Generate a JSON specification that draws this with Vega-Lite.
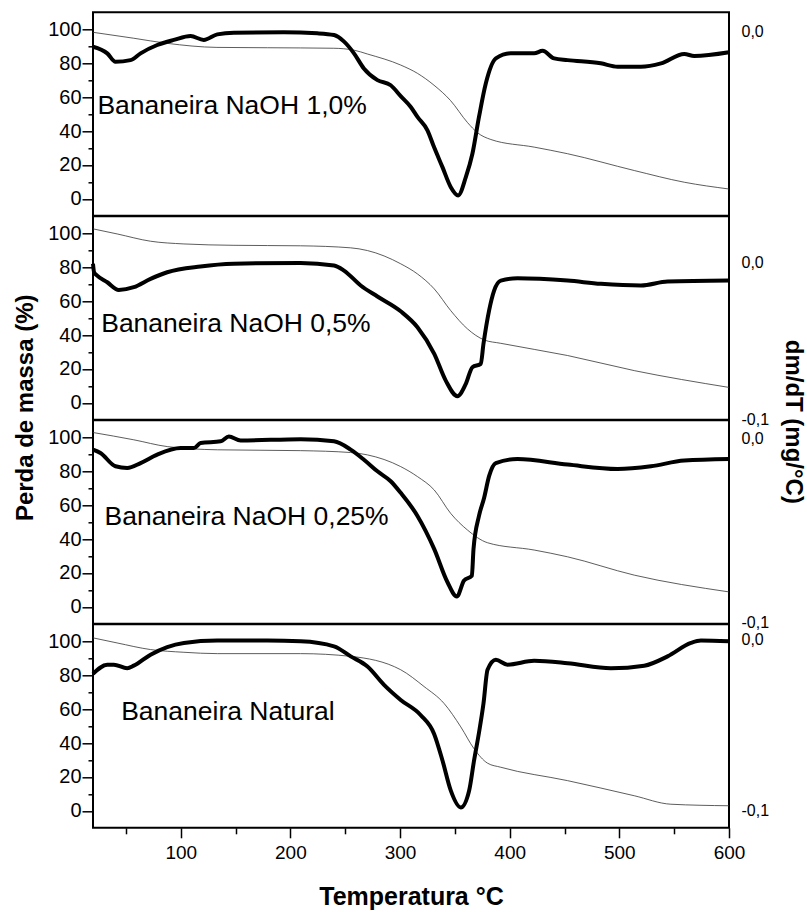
{
  "$schema": "https://vega.github.io/schema/vega-lite/v6.json",
  "background": "white",
  "padding": {"left": 12, "top": 11.3, "right": 5, "bottom": 5},
  "datasets": {
    "tg": [
      {"s": "a", "T": 20, "m": 98.2}, {"s": "a", "T": 57.2, "m": 94.7}, {"s": "a", "T": 87.7, "m": 91.7}, {"s": "a", "T": 133, "m": 89.3}, {"s": "a", "T": 179, "m": 89.1}, {"s": "a", "T": 239.6, "m": 88.8}, {"s": "a", "T": 257.8, "m": 87.7}, {"s": "a", "T": 270.3, "m": 85.4}, {"s": "a", "T": 300.6, "m": 78.9}, {"s": "a", "T": 315.9, "m": 74}, {"s": "a", "T": 331, "m": 67}, {"s": "a", "T": 346, "m": 58}, {"s": "a", "T": 361.5, "m": 45}, {"s": "a", "T": 370.6, "m": 39}, {"s": "a", "T": 382.8, "m": 35}, {"s": "a", "T": 422.3, "m": 30.5}, {"s": "a", "T": 452.8, "m": 26.6}, {"s": "a", "T": 513.6, "m": 16.7}, {"s": "a", "T": 559.2, "m": 9.8}, {"s": "a", "T": 600, "m": 5.8},
      {"s": "b", "T": 20, "m": 102.6}, {"s": "b", "T": 42, "m": 99.6}, {"s": "b", "T": 72.5, "m": 95.3}, {"s": "b", "T": 102.9, "m": 93.7}, {"s": "b", "T": 148.5, "m": 92.9}, {"s": "b", "T": 209.4, "m": 92.6}, {"s": "b", "T": 255, "m": 91.4}, {"s": "b", "T": 270.3, "m": 89.8}, {"s": "b", "T": 300.6, "m": 82}, {"s": "b", "T": 315.9, "m": 76}, {"s": "b", "T": 331.2, "m": 67.2}, {"s": "b", "T": 346.2, "m": 54.4}, {"s": "b", "T": 361.5, "m": 43.6}, {"s": "b", "T": 376.7, "m": 37.1}, {"s": "b", "T": 391.9, "m": 35.1}, {"s": "b", "T": 452.8, "m": 27.9}, {"s": "b", "T": 513.6, "m": 19}, {"s": "b", "T": 600, "m": 9.1},
      {"s": "c", "T": 20, "m": 102.8}, {"s": "c", "T": 57.2, "m": 98.5}, {"s": "c", "T": 87.7, "m": 94.5}, {"s": "c", "T": 133.4, "m": 92.6}, {"s": "c", "T": 209.4, "m": 92.1}, {"s": "c", "T": 255, "m": 91}, {"s": "c", "T": 270.3, "m": 89.6}, {"s": "c", "T": 300.6, "m": 82.7}, {"s": "c", "T": 315.9, "m": 76.8}, {"s": "c", "T": 331.2, "m": 68.9}, {"s": "c", "T": 346.2, "m": 55.1}, {"s": "c", "T": 361.5, "m": 45.3}, {"s": "c", "T": 379.8, "m": 37.8}, {"s": "c", "T": 422.3, "m": 33.5}, {"s": "c", "T": 452.8, "m": 29.5}, {"s": "c", "T": 513.6, "m": 18.7}, {"s": "c", "T": 600, "m": 8.8},
      {"s": "d", "T": 20, "m": 102}, {"s": "d", "T": 42, "m": 99}, {"s": "d", "T": 72.5, "m": 95.1}, {"s": "d", "T": 102.9, "m": 93.5}, {"s": "d", "T": 133.4, "m": 92.7}, {"s": "d", "T": 209.4, "m": 92.7}, {"s": "d", "T": 255, "m": 91.1}, {"s": "d", "T": 300.6, "m": 83.2}, {"s": "d", "T": 321.9, "m": 73.3}, {"s": "d", "T": 340.2, "m": 63.3}, {"s": "d", "T": 355.4, "m": 49.5}, {"s": "d", "T": 367.5, "m": 36.6}, {"s": "d", "T": 379.8, "m": 28.1}, {"s": "d", "T": 391.9, "m": 25.7}, {"s": "d", "T": 452.8, "m": 17.8}, {"s": "d", "T": 513.6, "m": 8.9}, {"s": "d", "T": 547, "m": 3.9}, {"s": "d", "T": 600, "m": 3}
    ],
    "dtg": [
      {"s": "a", "T": 20, "d": -0.00813}, {"s": "a", "T": 33, "d": -0.01169}, {"s": "a", "T": 40.5, "d": -0.01626}, {"s": "a", "T": 54.2, "d": -0.01534}, {"s": "a", "T": 63.4, "d": -0.01169}, {"s": "a", "T": 78.6, "d": -0.00721}, {"s": "a", "T": 93.7, "d": -0.00447}, {"s": "a", "T": 109, "d": -0.00237}, {"s": "a", "T": 121, "d": -0.00447}, {"s": "a", "T": 133.4, "d": -0.00146}, {"s": "a", "T": 148.5, "d": -0.00055}, {"s": "a", "T": 194, "d": -0.00037}, {"s": "a", "T": 224.6, "d": -0.00091}, {"s": "a", "T": 239.8, "d": -0.00183}, {"s": "a", "T": 249, "d": -0.00539}, {"s": "a", "T": 258, "d": -0.01169}, {"s": "a", "T": 267, "d": -0.01982}, {"s": "a", "T": 279.4, "d": -0.02612}, {"s": "a", "T": 291.5, "d": -0.02886}, {"s": "a", "T": 300.6, "d": -0.0347}, {"s": "a", "T": 309.8, "d": -0.04055}, {"s": "a", "T": 315.9, "d": -0.04594}, {"s": "a", "T": 325, "d": -0.05315}, {"s": "a", "T": 331, "d": -0.06219}, {"s": "a", "T": 338.7, "d": -0.07297}, {"s": "a", "T": 346.3, "d": -0.08374}, {"s": "a", "T": 353, "d": -0.08822}, {"s": "a", "T": 360, "d": -0.07836}, {"s": "a", "T": 366, "d": -0.06575}, {"s": "a", "T": 372, "d": -0.04594}, {"s": "a", "T": 378.2, "d": -0.02795}, {"s": "a", "T": 387.4, "d": -0.01443}, {"s": "a", "T": 401, "d": -0.01169}, {"s": "a", "T": 422.3, "d": -0.01169}, {"s": "a", "T": 430, "d": -0.01032}, {"s": "a", "T": 440.6, "d": -0.01443}, {"s": "a", "T": 452.8, "d": -0.01534}, {"s": "a", "T": 483, "d": -0.01708}, {"s": "a", "T": 498.4, "d": -0.0189}, {"s": "a", "T": 519.7, "d": -0.0189}, {"s": "a", "T": 538, "d": -0.01708}, {"s": "a", "T": 559.2, "d": -0.01205}, {"s": "a", "T": 568.3, "d": -0.01315}, {"s": "a", "T": 600, "d": -0.01114},
      {"s": "b", "T": 20, "d": -0.00097}, {"s": "b", "T": 21, "d": -0.00635}, {"s": "b", "T": 23.8, "d": -0.0085}, {"s": "b", "T": 33, "d": -0.0127}, {"s": "b", "T": 43.5, "d": -0.01755}, {"s": "b", "T": 57.2, "d": -0.01582}, {"s": "b", "T": 72.5, "d": -0.01055}, {"s": "b", "T": 87.7, "d": -0.00635}, {"s": "b", "T": 118, "d": -0.00269}, {"s": "b", "T": 148.5, "d": -0.00097}, {"s": "b", "T": 209.4, "d": -0.00043}, {"s": "b", "T": 239.8, "d": -0.00205}, {"s": "b", "T": 248.9, "d": -0.00527}, {"s": "b", "T": 264.1, "d": -0.01475}, {"s": "b", "T": 279.4, "d": -0.02174}, {"s": "b", "T": 300.6, "d": -0.03111}, {"s": "b", "T": 315.9, "d": -0.04123}, {"s": "b", "T": 331.2, "d": -0.05813}, {"s": "b", "T": 341.7, "d": -0.07513}, {"s": "b", "T": 352.4, "d": -0.08504}, {"s": "b", "T": 360, "d": -0.07718}, {"s": "b", "T": 366, "d": -0.06663}, {"s": "b", "T": 373.6, "d": -0.06448}, {"s": "b", "T": 376.1, "d": -0.05178}, {"s": "b", "T": 381.2, "d": -0.03068}, {"s": "b", "T": 385.8, "d": -0.01798}, {"s": "b", "T": 391.9, "d": -0.01163}, {"s": "b", "T": 407.1, "d": -0.01012}, {"s": "b", "T": 452.8, "d": -0.01163}, {"s": "b", "T": 483.2, "d": -0.01367}, {"s": "b", "T": 519.7, "d": -0.01475}, {"s": "b", "T": 544, "d": -0.01227}, {"s": "b", "T": 600, "d": -0.01163},
      {"s": "c", "T": 20, "d": -0.00622}, {"s": "c", "T": 26.8, "d": -0.00805}, {"s": "c", "T": 40.5, "d": -0.01528}, {"s": "c", "T": 51.2, "d": -0.01619}, {"s": "c", "T": 63.4, "d": -0.01354}, {"s": "c", "T": 78.6, "d": -0.00897}, {"s": "c", "T": 99.9, "d": -0.0054}, {"s": "c", "T": 112, "d": -0.0054}, {"s": "c", "T": 118.1, "d": -0.00265}, {"s": "c", "T": 136.4, "d": -0.00174}, {"s": "c", "T": 143.9, "d": 0.00091}, {"s": "c", "T": 154.6, "d": -0.00128}, {"s": "c", "T": 209.4, "d": -0.00055}, {"s": "c", "T": 239.8, "d": -0.00174}, {"s": "c", "T": 255, "d": -0.00622}, {"s": "c", "T": 267.1, "d": -0.01171}, {"s": "c", "T": 279.4, "d": -0.01802}, {"s": "c", "T": 291.5, "d": -0.02342}, {"s": "c", "T": 300.6, "d": -0.02973}, {"s": "c", "T": 315.9, "d": -0.04227}, {"s": "c", "T": 331.2, "d": -0.06029}, {"s": "c", "T": 343.3, "d": -0.07832}, {"s": "c", "T": 351.8, "d": -0.08609}, {"s": "c", "T": 358.4, "d": -0.0774}, {"s": "c", "T": 365.5, "d": -0.07475}, {"s": "c", "T": 367, "d": -0.06029}, {"s": "c", "T": 372, "d": -0.04227}, {"s": "c", "T": 376.7, "d": -0.03239}, {"s": "c", "T": 381.2, "d": -0.02068}, {"s": "c", "T": 387.3, "d": -0.01354}, {"s": "c", "T": 407.1, "d": -0.01134}, {"s": "c", "T": 452.8, "d": -0.01436}, {"s": "c", "T": 498.4, "d": -0.01674}, {"s": "c", "T": 528.8, "d": -0.01528}, {"s": "c", "T": 559.2, "d": -0.01217}, {"s": "c", "T": 600, "d": -0.01134},
      {"s": "d", "T": 20, "d": -0.02024}, {"s": "d", "T": 33, "d": -0.01488}, {"s": "d", "T": 39, "d": -0.01488}, {"s": "d", "T": 51.2, "d": -0.01696}, {"s": "d", "T": 57.2, "d": -0.01548}, {"s": "d", "T": 72.5, "d": -0.00903}, {"s": "d", "T": 87.7, "d": -0.00456}, {"s": "d", "T": 102.9, "d": -0.00218}, {"s": "d", "T": 133.4, "d": -0.00079}, {"s": "d", "T": 179, "d": -0.00079}, {"s": "d", "T": 209.4, "d": -0.00119}, {"s": "d", "T": 239.8, "d": -0.00417}, {"s": "d", "T": 255, "d": -0.01002}, {"s": "d", "T": 270.3, "d": -0.01597}, {"s": "d", "T": 285.4, "d": -0.02669}, {"s": "d", "T": 300.6, "d": -0.03552}, {"s": "d", "T": 318.9, "d": -0.04444}, {"s": "d", "T": 331, "d": -0.05526}, {"s": "d", "T": 338.7, "d": -0.07093}, {"s": "d", "T": 346.3, "d": -0.08859}, {"s": "d", "T": 355.4, "d": -0.09841}, {"s": "d", "T": 363, "d": -0.08859}, {"s": "d", "T": 367.5, "d": -0.07093}, {"s": "d", "T": 372.1, "d": -0.05427}, {"s": "d", "T": 376.1, "d": -0.0376}, {"s": "d", "T": 379.8, "d": -0.01786}, {"s": "d", "T": 387.4, "d": -0.012}, {"s": "d", "T": 398, "d": -0.01488}, {"s": "d", "T": 422.3, "d": -0.0126}, {"s": "d", "T": 452.8, "d": -0.01399}, {"s": "d", "T": 492.3, "d": -0.01696}, {"s": "d", "T": 522.7, "d": -0.01548}, {"s": "d", "T": 544, "d": -0.01002}, {"s": "d", "T": 565.3, "d": -0.00218}, {"s": "d", "T": 574.4, "d": -0.00079}, {"s": "d", "T": 600, "d": -0.00119}
    ],
    "lbl": [
      {"s": "a", "T": 24, "p": 54.6, "t": "Bananeira NaOH 1,0%"},
      {"s": "b", "T": 27.5, "p": 46.6, "t": "Bananeira NaOH 0,5%"},
      {"s": "c", "T": 30.5, "p": 53, "t": "Bananeira NaOH 0,25%"},
      {"s": "d", "T": 45.7, "p": 58, "t": "Bananeira Natural"}
    ]
  },
  "config": {
    "view": {"stroke": "black", "strokeWidth": 2},
    "axis": {"labelFont": "Liberation Sans", "titleFont": "Liberation Sans", "labelColor": "black", "titleColor": "black", "tickColor": "black", "tickWidth": 1.5, "domain": false, "grid": false, "labelFontSize": 19, "titleFontSize": 24, "titleFontWeight": "bold", "labelFlush": false, "labelOverlap": false}
  },
  "columns": 1,
  "spacing": 0,
  "bounds": "flush",
  "concat": [
    {
      "width": 636, "height": 203.5,
      "layer": [
        {"data": {"name": "tg"}, "transform": [{"filter": "datum.s === 'a'"}], "mark": {"type": "line", "color": "#333", "strokeWidth": 0.8, "interpolate": "monotone"},
         "encoding": {"x": {"field": "T", "type": "quantitative", "scale": {"domain": [20, 600], "nice": false, "zero": false}, "axis": null},
                      "y": {"field": "m", "type": "quantitative", "scale": {"domain": [-10, 110], "nice": false, "zero": false},
                            "axis": {"orient": "left", "title": null, "values": [0, 10, 20, 30, 40, 50, 60, 70, 80, 90, 100], "labelExpr": "datum.value % 20 === 0 ? datum.label : ''", "tickSize": {"condition": {"test": "datum.value % 20 === 0", "value": 11}, "value": 5}, "labelPadding": 1, "labelFontSize": 20}}}},
        {"data": {"name": "lbl"}, "transform": [{"filter": "datum.s === 'a'"}], "mark": {"type": "text", "align": "left", "baseline": "middle", "fontSize": 26.5, "font": "Liberation Sans", "color": "black"},
         "encoding": {"x": {"field": "T", "type": "quantitative", "axis": null}, "y": {"field": "p", "type": "quantitative", "scale": {"domain": [-10, 110], "nice": false, "zero": false}, "axis": null}, "text": {"field": "t"}}},
        {"data": {"name": "dtg"}, "transform": [{"filter": "datum.s === 'a'"}], "mark": {"type": "line", "color": "black", "strokeWidth": 4, "interpolate": "monotone"},
         "encoding": {"x": {"field": "T", "type": "quantitative", "axis": null},
                      "y": {"field": "d", "type": "quantitative", "scale": {"domain": [-0.09918, 0.01041], "nice": false, "zero": false},
                            "axis": {"orient": "right", "title": null, "values": [0], "labelExpr": "datum.value < 0 ? '-0,1' : '0,0'", "ticks": false, "labelPadding": 12, "labelFontSize": 16}}}}
      ],
      "resolve": {"scale": {"y": "independent"}, "axis": {"y": "independent"}}
    },
    {
      "width": 636, "height": 203.5,
      "layer": [
        {"data": {"name": "tg"}, "transform": [{"filter": "datum.s === 'b'"}], "mark": {"type": "line", "color": "#333", "strokeWidth": 0.8, "interpolate": "monotone"},
         "encoding": {"x": {"field": "T", "type": "quantitative", "scale": {"domain": [20, 600], "nice": false, "zero": false}, "axis": null},
                      "y": {"field": "m", "type": "quantitative", "scale": {"domain": [-10, 110], "nice": false, "zero": false},
                            "axis": {"orient": "left", "title": "Perda de massa (%)", "titleX": -67.5, "titleY": 191, "titleBaseline": "middle", "titleAngle": -90, "values": [0, 10, 20, 30, 40, 50, 60, 70, 80, 90, 100], "labelExpr": "datum.value % 20 === 0 ? datum.label : ''", "tickSize": {"condition": {"test": "datum.value % 20 === 0", "value": 11}, "value": 5}, "labelPadding": 1, "labelFontSize": 20}}}},
        {"data": {"name": "lbl"}, "transform": [{"filter": "datum.s === 'b'"}], "mark": {"type": "text", "align": "left", "baseline": "middle", "fontSize": 26.5, "font": "Liberation Sans", "color": "black"},
         "encoding": {"x": {"field": "T", "type": "quantitative", "axis": null}, "y": {"field": "p", "type": "quantitative", "scale": {"domain": [-10, 110], "nice": false, "zero": false}, "axis": null}, "text": {"field": "t"}}},
        {"data": {"name": "dtg"}, "transform": [{"filter": "datum.s === 'b'"}], "mark": {"type": "line", "color": "black", "strokeWidth": 4, "interpolate": "monotone"},
         "encoding": {"x": {"field": "T", "type": "quantitative", "axis": null},
                      "y": {"field": "d", "type": "quantitative", "scale": {"domain": [-0.1, 0.02917], "nice": false, "zero": false},
                            "axis": {"orient": "right", "title": "dm/dT (mg/°C)", "titleX": 64, "titleY": 205, "titleBaseline": "middle", "titleAngle": 90, "values": [0, -0.1], "labelExpr": "datum.value < 0 ? '-0,1' : '0,0'", "ticks": false, "labelPadding": 12, "labelFontSize": 16}}}}
      ],
      "resolve": {"scale": {"y": "independent"}, "axis": {"y": "independent"}}
    },
    {
      "width": 636, "height": 203.5,
      "layer": [
        {"data": {"name": "tg"}, "transform": [{"filter": "datum.s === 'c'"}], "mark": {"type": "line", "color": "#333", "strokeWidth": 0.8, "interpolate": "monotone"},
         "encoding": {"x": {"field": "T", "type": "quantitative", "scale": {"domain": [20, 600], "nice": false, "zero": false}, "axis": null},
                      "y": {"field": "m", "type": "quantitative", "scale": {"domain": [-10, 110], "nice": false, "zero": false},
                            "axis": {"orient": "left", "title": null, "values": [0, 10, 20, 30, 40, 50, 60, 70, 80, 90, 100], "labelExpr": "datum.value % 20 === 0 ? datum.label : ''", "tickSize": {"condition": {"test": "datum.value % 20 === 0", "value": 11}, "value": 5}, "labelPadding": 1, "labelFontSize": 20}}}},
        {"data": {"name": "lbl"}, "transform": [{"filter": "datum.s === 'c'"}], "mark": {"type": "text", "align": "left", "baseline": "middle", "fontSize": 26.5, "font": "Liberation Sans", "color": "black"},
         "encoding": {"x": {"field": "T", "type": "quantitative", "axis": null}, "y": {"field": "p", "type": "quantitative", "scale": {"domain": [-10, 110], "nice": false, "zero": false}, "axis": null}, "text": {"field": "t"}}},
        {"data": {"name": "dtg"}, "transform": [{"filter": "datum.s === 'c'"}], "mark": {"type": "line", "color": "black", "strokeWidth": 4, "interpolate": "monotone"},
         "encoding": {"x": {"field": "T", "type": "quantitative", "axis": null},
                      "y": {"field": "d", "type": "quantitative", "scale": {"domain": [-0.1009, 0.0097], "nice": false, "zero": false},
                            "axis": {"orient": "right", "title": null, "values": [0, -0.1], "labelExpr": "datum.value < 0 ? '-0,1' : '0,0'", "ticks": false, "labelPadding": 12, "labelFontSize": 16}}}}
      ],
      "resolve": {"scale": {"y": "independent"}, "axis": {"y": "independent"}}
    },
    {
      "width": 636, "height": 203.5,
      "layer": [
        {"data": {"name": "tg"}, "transform": [{"filter": "datum.s === 'd'"}], "mark": {"type": "line", "color": "#333", "strokeWidth": 0.8, "interpolate": "monotone"},
         "encoding": {"x": {"field": "T", "type": "quantitative", "scale": {"domain": [20, 600], "nice": false, "zero": false},
                            "axis": {"title": "Temperatura °C", "titleY": 69, "titleBaseline": "middle", "titleFontSize": 25, "values": [50, 100, 150, 200, 250, 300, 350, 400, 450, 500, 550, 600], "labelExpr": "datum.value % 100 === 0 ? datum.label : ''", "tickSize": {"condition": {"test": "datum.value % 100 === 0", "value": 10}, "value": 6}, "labelPadding": 6}},
                      "y": {"field": "m", "type": "quantitative", "scale": {"domain": [-10, 110], "nice": false, "zero": false},
                            "axis": {"orient": "left", "title": null, "values": [0, 10, 20, 30, 40, 50, 60, 70, 80, 90, 100], "labelExpr": "datum.value % 20 === 0 ? datum.label : ''", "tickSize": {"condition": {"test": "datum.value % 20 === 0", "value": 11}, "value": 5}, "labelPadding": 1, "labelFontSize": 20}}}},
        {"data": {"name": "lbl"}, "transform": [{"filter": "datum.s === 'd'"}], "mark": {"type": "text", "align": "left", "baseline": "middle", "fontSize": 26.5, "font": "Liberation Sans", "color": "black"},
         "encoding": {"x": {"field": "T", "type": "quantitative"}, "y": {"field": "p", "type": "quantitative", "scale": {"domain": [-10, 110], "nice": false, "zero": false}, "axis": null}, "text": {"field": "t"}}},
        {"data": {"name": "dtg"}, "transform": [{"filter": "datum.s === 'd'"}], "mark": {"type": "line", "color": "black", "strokeWidth": 4, "interpolate": "monotone"},
         "encoding": {"x": {"field": "T", "type": "quantitative"},
                      "y": {"field": "d", "type": "quantitative", "scale": {"domain": [-0.1103, 0.00873], "nice": false, "zero": false},
                            "axis": {"orient": "right", "title": null, "values": [0, -0.1], "labelExpr": "datum.value < 0 ? '-0,1' : '0,0'", "ticks": false, "labelPadding": 12, "labelFontSize": 16}}}}
      ],
      "resolve": {"scale": {"y": "independent"}, "axis": {"y": "independent"}}
    }
  ]
}
